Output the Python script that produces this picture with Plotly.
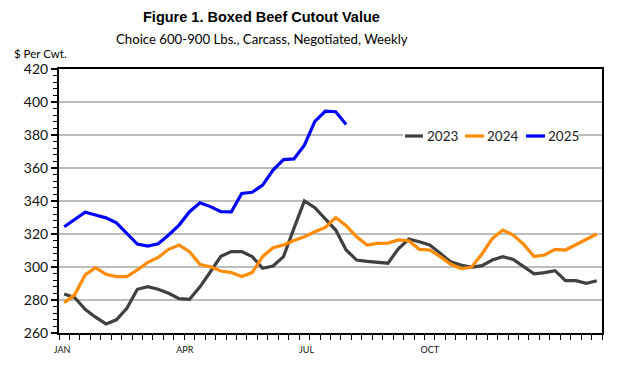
import plotly.graph_objects as go

weeks = list(range(52))

y2023 = [283.7, 281.5, 274.4, 269.6, 265.5, 268.0, 275.0, 286.5, 288.1, 286.5,
         284.1, 280.8, 280.4, 288.0, 297.1, 306.5, 309.3, 309.3, 306.3, 299.2,
         300.6, 306.3, 323.4, 340.1, 335.9, 329.4, 322.4, 310.3, 304.2, 303.4,
         303.0, 302.3, 311.0, 316.9, 315.3, 313.3, 308.3, 303.2, 301.2, 299.8,
         300.8, 304.2, 306.3, 304.6, 300.2, 295.8, 296.6, 297.8, 291.7, 291.7,
         290.1, 291.7]

y2024 = [278.4, 283.1, 295.2, 299.6, 295.6, 294.2, 294.2, 298.2, 302.8, 305.8,
         310.7, 313.3, 309.3, 301.5, 300.2, 297.6, 296.6, 294.2, 296.6, 306.3,
         311.7, 313.3, 316.1, 318.3, 321.4, 324.0, 330.0, 325.0, 318.3, 313.3,
         314.3, 314.5, 316.4, 315.9, 310.7, 310.3, 306.3, 301.8, 299.0, 299.8,
         307.9, 317.3, 322.4, 319.4, 313.7, 306.3, 307.3, 310.7, 310.3, 313.7,
         316.9, 320.0]

y2025 = [324.4, 328.8, 333.2, 331.5, 329.8, 326.8, 320.4, 313.9, 312.7, 314.1,
         319.4, 325.4, 333.5, 338.9, 336.6, 333.5, 333.4, 344.6, 345.3, 349.6,
         358.7, 365.1, 365.5, 373.8, 388.3, 394.4, 394.1, 386.3]

series_names = ["2023", "2024", "2025"]
series_colors = ["#404040", "#FF8C00", "#0000FF"]

month_labels = ["JAN", "APR", "JUL", "OCT"]
month_pos = [-0.2, 11.55, 23.2, 35.0]

y_ticks = [260, 280, 300, 320, 340, 360, 380, 400, 420]

fig = go.Figure()
for name, vals, col in zip(series_names, [y2023, y2024, y2025], series_colors):
    fig.add_trace(go.Scatter(
        x=weeks[:len(vals)], y=vals, mode="lines", name=name,
        line=dict(color=col, width=3.2),
    ))

# the page body adds an 8px margin, so the figure is sized to fit the rest
fig.update_layout(
    width=616, height=363,
    margin=dict(l=51, r=22, t=61, b=38, autoexpand=False),
    paper_bgcolor="white", plot_bgcolor="white",
    showlegend=False,
    font=dict(family="Lato, sans-serif"),
)

fig.update_xaxes(
    range=[-0.5, 51.5],
    tickmode="array", tickvals=month_pos, ticktext=month_labels,
    ticks="", ticklabelstandoff=7,
    tickfont=dict(family="Lato, sans-serif", size=9, color="#111"),
    showgrid=False, zeroline=False,
    showline=True, linecolor="black", linewidth=2, mirror=True,
    minor=dict(tickmode="array", tickvals=[k - 0.5 for k in range(53)],
               ticks="outside", ticklen=5, tickwidth=1.2, tickcolor="black"),
)

fig.update_yaxes(
    range=[260, 420],
    tickmode="array", tickvals=y_ticks,
    ticks="outside", ticklen=6, tickwidth=1.5, tickcolor="black",
    tickfont=dict(family="Lato, sans-serif", size=14, color="#111"),
    showgrid=True, gridcolor="#BDBDBD", gridwidth=2,
    zeroline=False,
    showline=True, linecolor="black", linewidth=2, mirror=True,
    minor=dict(dtick=4, tick0=260, ticks="outside", ticklen=4, tickwidth=1, tickcolor="black", showgrid=False),
)

# manual legend (inside the plot area)
fig.add_shape(type="rect", xref="paper", yref="paper", x0=0.6335, x1=0.9558, y0=0.716, y1=0.7765,
              fillcolor="white", line=dict(width=0), layer="above")
leg_line_x = [(0.6372, 0.6703), (0.7477, 0.7827), (0.8600, 0.8950)]
leg_text_x = [0.6740, 0.7845, 0.8969]
for name, col, (lx0, lx1), tx in zip(series_names, series_colors, leg_line_x, leg_text_x):
    fig.add_shape(type="line", xref="paper", yref="paper", x0=lx0, x1=lx1, y0=0.7462, y1=0.7462,
                  line=dict(color=col, width=3.2), layer="above")
    fig.add_annotation(text=name, xref="paper", yref="paper", x=tx, y=0.7462,
                       xanchor="left", yanchor="middle", showarrow=False,
                       font=dict(family="Lato, sans-serif", size=13.5, color="#222"))

fig.add_annotation(
    text="<b>Figure 1. Boxed Beef Cutout Value</b>",
    xref="paper", yref="paper", x=0.373, y=1.197, xanchor="center", yanchor="middle",
    showarrow=False, font=dict(family="Liberation Sans, Arial, sans-serif", size=14.5, color="black"),
)
fig.add_annotation(
    text="Choice 600-900 Lbs., Carcass, Negotiated, Weekly",
    xref="paper", yref="paper", x=0.373, y=1.114, xanchor="center", yanchor="middle",
    showarrow=False, font=dict(family="Lato, sans-serif", size=13.2, color="black"),
)
fig.add_annotation(
    text="$ Per Cwt.",
    xref="paper", yref="paper", x=-0.0866, y=1.057, xanchor="left", yanchor="middle",
    showarrow=False, font=dict(family="Lato, sans-serif", size=11.5, color="black"),
)

fig.write_html("out.html")
